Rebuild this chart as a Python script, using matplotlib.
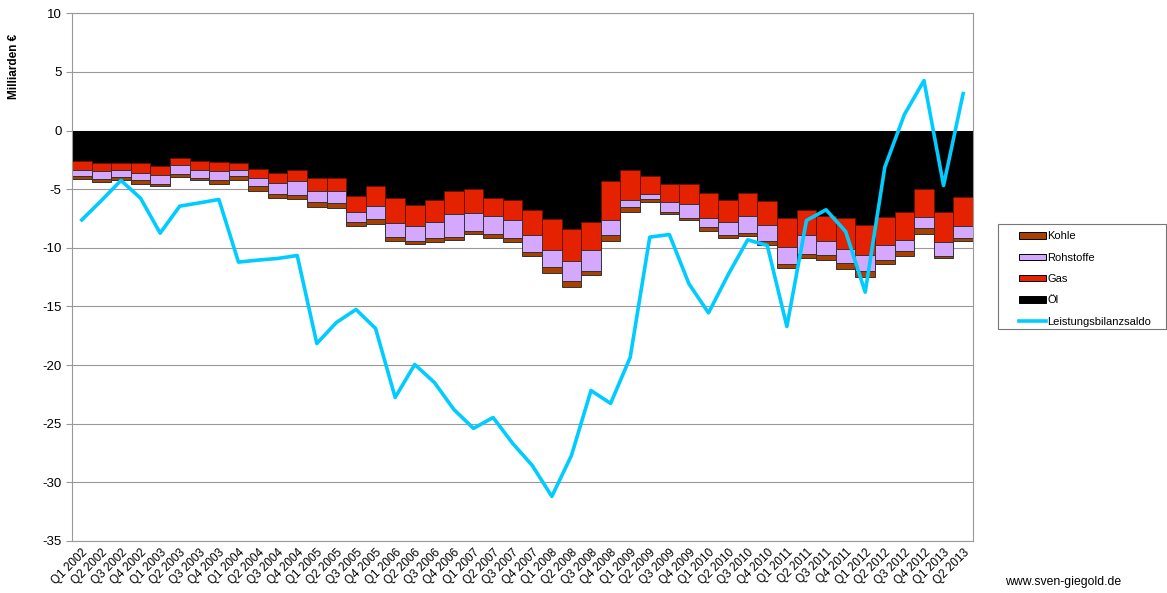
import numpy as np
import matplotlib.pyplot as plt
from matplotlib.patches import Rectangle

plt.rcParams['font.family'] = ['Liberation Sans', 'DejaVu Sans']
plt.rcParams['axes.unicode_minus'] = False

quarters = [f"Q{q} {y}" for y in range(2002, 2014) for q in range(1, 5)][:46]

oel = [2.56, 2.78, 2.73, 2.78, 3.04, 2.33, 2.61, 2.70, 2.73, 3.32, 3.64, 3.38,
       4.01, 4.09, 5.60, 4.77, 5.77, 6.39, 5.91, 5.20, 4.97, 5.77, 5.91, 6.82,
       7.53, 8.44, 7.76, 4.29, 3.38, 3.89, 4.52, 4.52, 5.34, 5.91, 5.34, 6.05,
       7.47, 6.76, 7.33, 7.47, 8.04, 7.36, 6.91, 5.00, 6.93, 5.71]
gas = [0.79, 0.66, 0.62, 0.83, 0.77, 0.60, 0.74, 0.74, 0.62, 0.69, 0.82, 0.94,
       1.11, 1.08, 1.36, 1.65, 2.13, 1.77, 1.85, 1.93, 2.08, 1.56, 1.68, 2.10,
       2.67, 2.67, 2.47, 3.30, 2.53, 1.51, 1.59, 1.73, 2.11, 1.88, 1.99, 1.99,
       2.50, 2.19, 2.10, 2.67, 2.56, 2.42, 2.44, 2.39, 2.56, 2.45]
rohstoffe = [0.51, 0.68, 0.60, 0.65, 0.71, 0.82, 0.66, 0.82, 0.57, 0.76, 0.94, 1.14,
             0.99, 1.03, 0.85, 1.14, 1.22, 1.22, 1.42, 1.91, 1.48, 1.48, 1.59, 1.40,
             1.45, 1.76, 1.73, 1.36, 0.65, 0.40, 0.82, 1.20, 0.82, 1.13, 1.39, 1.34,
             1.45, 1.56, 1.17, 1.17, 1.39, 1.22, 0.91, 0.96, 1.17, 1.02]
kohle = [0.26, 0.28, 0.26, 0.29, 0.23, 0.20, 0.22, 0.26, 0.26, 0.40, 0.34, 0.37,
         0.43, 0.39, 0.37, 0.40, 0.31, 0.28, 0.34, 0.28, 0.28, 0.34, 0.34, 0.36,
         0.46, 0.49, 0.32, 0.43, 0.40, 0.28, 0.20, 0.22, 0.28, 0.23, 0.29, 0.34,
         0.29, 0.35, 0.43, 0.48, 0.46, 0.37, 0.45, 0.46, 0.25, 0.28]
saldo = [-7.62, -5.97, -4.26, -5.77, -8.75, -6.45, -6.17, -5.88, -11.22, -11.05, -10.91, -10.66,
         -18.16, -16.37, -15.26, -16.88, -22.76, -19.95, -21.48, -23.79, -25.40, -24.47, -26.68, -28.56,
         -31.20, -27.71, -22.17, -23.27, -19.35, -9.09, -8.87, -13.07, -15.55, -12.30, -9.32, -9.80,
         -16.71, -7.67, -6.76, -8.61, -13.78, -3.13, 1.36, 4.26, -4.69, 3.15]

fig = plt.figure(figsize=(11.67, 5.93), dpi=100)
ax = fig.add_axes([0.0617, 0.0877, 0.772, 0.890])

x = np.arange(len(quarters))
oel_n = -np.array(oel)
gas_n = -np.array(gas)
roh_n = -np.array(rohstoffe)
koh_n = -np.array(kohle)

b_oel = ax.bar(x, oel_n, width=1.0, color='#000000', edgecolor='#000000', linewidth=0.7, zorder=2)
b_gas = ax.bar(x, gas_n, bottom=oel_n, width=1.0, color='#E42200', edgecolor='#6a1000', linewidth=0.7, zorder=2)
b_roh = ax.bar(x, roh_n, bottom=oel_n + gas_n, width=1.0, color='#D4A8FF', edgecolor='#333333', linewidth=0.7, zorder=2)
b_koh = ax.bar(x, koh_n, bottom=oel_n + gas_n + roh_n, width=1.0, color='#A84000', edgecolor='#333333', linewidth=0.7, zorder=2)
l_saldo, = ax.plot(x, saldo, color='#00CCFF', linewidth=2.6, zorder=3)

ax.set_xlim(-0.5, len(quarters) - 0.5)
ax.set_ylim(-35, 10)
ax.set_yticks(range(-35, 11, 5))
ax.yaxis.grid(True, color='#999999', linewidth=0.8, zorder=0)
ax.set_axisbelow(True)
for s in ax.spines.values():
    s.set_color('#999999')
ax.set_xticks(x)
ax.set_xticklabels(quarters, rotation=45, ha='right', rotation_mode='anchor', fontsize=8.5)
ax.tick_params(axis='x', length=0, pad=4)
ax.tick_params(axis='y', labelsize=9.5, length=4, color='#999999', direction='out')
ax.set_ylabel('Milliarden €', fontsize=8.5, fontweight='bold')
ax.yaxis.set_label_coords(-0.058, 0.9)

# legend frame drawn separately so it can span to the right edge
fig.patches.append(Rectangle((998 / 1167, 1 - 329 / 593), 168 / 1167, 105 / 593,
                             transform=fig.transFigure, facecolor='white',
                             edgecolor='#777777', linewidth=0.8))
leg = fig.legend([b_koh, b_roh, b_gas, b_oel, l_saldo],
                 ['Kohle', 'Rohstoffe', 'Gas', 'Öl', 'Leistungsbilanzsaldo'],
                 loc='upper left', bbox_to_anchor=(1016 / 1167, 1 - 228 / 593), fontsize=8,
                 frameon=False, handlelength=2.4, handleheight=0.5, labelspacing=1.02,
                 borderpad=0.3, handletextpad=0.1, borderaxespad=0)
for h in leg.legend_handles[:4]:
    h.set_edgecolor('#000000')

fig.text(0.861, 0.013, 'www.sven-giegold.de', fontsize=8.8)

fig.savefig('out.png', dpi=100)
